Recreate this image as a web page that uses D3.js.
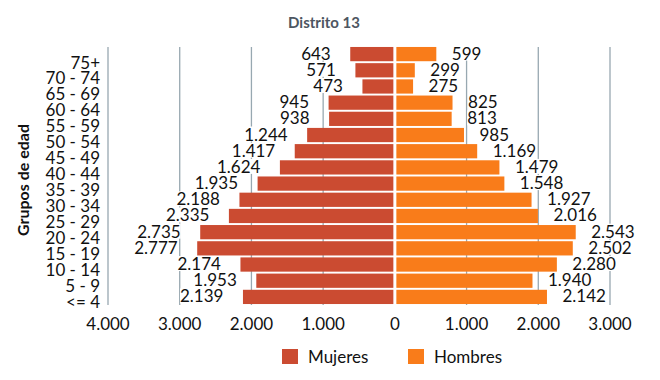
<!DOCTYPE html>
<html><head><meta charset="utf-8">
<script src="https://cdn.jsdelivr.net/npm/d3@7"></script>
<style>body{margin:0;background:#fff}svg{display:block}text{font-family:Lato,"Open Sans",sans-serif}</style>
</head><body><svg id="c" width="660" height="380"></svg>
<script>
const groups = ["75+","70 - 74","65 - 69","60 - 64","55 - 59","50 - 54","45 - 49","40 - 44","35 - 39","30 - 34","25 - 29","20 - 24","15 - 19","10 - 14","5 - 9","<= 4"];
const mujeres = [643,571,473,945,938,1244,1417,1624,1935,2188,2335,2735,2777,2174,1953,2139];
const hombres = [599,299,275,825,813,985,1169,1479,1548,1927,2016,2543,2502,2280,1940,2142];
const tickValues = [-4000,-3000,-2000,-1000,0,1000,2000,3000];
const seriesNames = ["Mujeres","Hombres"];
const colors = {Mujeres:"#cb4b31", Hombres:"#f97c1a"};
const title = "Distrito 13";
const yTitle = "Grupos de edad";

const es = d3.formatLocale({decimal:",",thousands:".",grouping:[3],currency:["","€"]});
const fmt = v => es.format(",")(Math.abs(v));

const svg = d3.select("#c");
const x = d3.scaleLinear().domain([-4000,3000]).range([108,610]);
const y = d3.scaleBand().domain(groups).range([46,305]).paddingInner(0.12).paddingOuter(0.06);
const yl = d3.scalePoint().domain(groups).range([62,301]);

// gridlines
svg.append("g").selectAll("line").data(tickValues.filter(d=>d!==0)).join("line")
  .attr("x1",d=>x(d)).attr("x2",d=>x(d)).attr("y1",47).attr("y2",305)
  .attr("stroke","#98a8b1").attr("stroke-width",1.3);

// bars
const gap = 1.5;
svg.append("g").selectAll("rect").data(groups).join("rect")
  .attr("x",(d,i)=>x(-mujeres[i])+gap).attr("y",d=>y(d))
  .attr("width",(d,i)=>x(0)-x(-mujeres[i])-2*gap).attr("height",y.bandwidth())
  .attr("fill",colors.Mujeres);
svg.append("g").selectAll("rect").data(groups).join("rect")
  .attr("x",x(0)+gap).attr("y",d=>y(d))
  .attr("width",(d,i)=>x(hombres[i])-x(0)-2*gap).attr("height",y.bandwidth())
  .attr("fill",colors.Hombres);

// data labels with white background
function labels(vals, sign){
  const g = svg.append("g");
  groups.forEach((d,i)=>{
    const v = vals[i];
    const t = g.append("text")
      .attr("x", sign<0 ? x(-v)-18 : x(v)+14)
      .attr("y", y(d)+y.bandwidth()/2-1)
      .attr("text-anchor", sign<0 ? "end" : "start")
      .attr("dominant-baseline","central")
      .attr("font-size",17).attr("fill","#111")
      .text(fmt(v));
    const b = t.node().getBBox();
    g.insert("rect", () => t.node()).attr("x",b.x).attr("y",b.y+3).attr("width",b.width).attr("height",b.height-6).attr("fill","#fff");
  });
}
labels(mujeres,-1);
labels(hombres,1);

// category labels
svg.append("g").selectAll("text").data(groups).join("text")
  .attr("x",100).attr("y",d=>yl(d)).attr("text-anchor","end").attr("dominant-baseline","central")
  .attr("font-size",17).attr("fill","#111").text(d=>d);

// x tick labels
svg.append("g").selectAll("text").data(tickValues).join("text")
  .attr("x",d=>x(d)).attr("y",323).attr("text-anchor","middle").attr("dominant-baseline","central")
  .attr("font-size",17).attr("fill","#111").text(d=>fmt(d));

// title
svg.append("text").attr("x",324).attr("y",22).attr("text-anchor","middle").attr("dominant-baseline","central")
  .attr("font-size",15).attr("font-weight","bold").attr("fill","#4d5661").text(title);

// y title
svg.append("text").attr("transform","translate(22,180) rotate(-90)").attr("text-anchor","middle")
  .attr("dominant-baseline","central").attr("font-size",16).attr("font-weight","bold").attr("fill","#111").text(yTitle);

// legend
const lx = [282, 408];
const lg = svg.append("g").selectAll("g").data(seriesNames).join("g")
  .attr("transform",(d,i)=>`translate(${lx[i]},349)`);
lg.append("rect").attr("width",16).attr("height",15).attr("fill",d=>colors[d]);
lg.append("text").attr("x",26).attr("y",7.5).attr("dominant-baseline","central")
  .attr("font-size",17).attr("fill","#111").text(d=>d);
</script></body></html>
